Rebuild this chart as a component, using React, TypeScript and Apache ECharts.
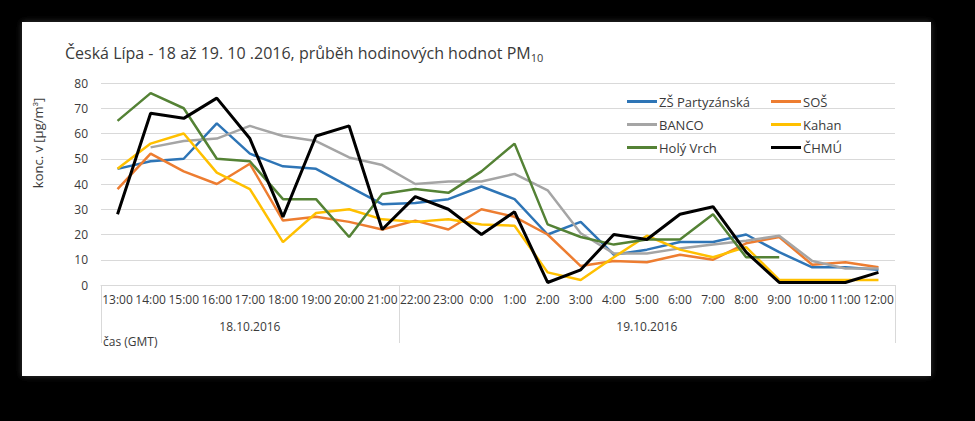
import React, { useEffect, useRef } from "react";
import * as echarts from "echarts";

const hours = ["13:00","14:00","15:00","16:00","17:00","18:00","19:00","20:00","21:00","22:00","23:00","0:00","1:00","2:00","3:00","4:00","5:00","6:00","7:00","8:00","9:00","10:00","11:00","12:00"];
const dateLabels = ["18.10.2016", "19.10.2016"];
const dateGroupSizes = [9, 15];
const yTicks = [0, 10, 20, 30, 40, 50, 60, 70, 80];

const zsPartyzanska = [46,49,50,64,52,47,46,39,32,32.5,34,39,34,20,25,12,14,17,17,20,13,7,7,6];
const sos = [38,52,45,40,48,25.5,27,25,22,25.5,22,30,27,20,7.5,9.5,9,12,10,16.5,19,8,9,7];
const banco = [null,54.5,57,58,63,59,57,50.5,47.5,40,41,41,44,37.5,20.5,12.5,12.5,14.5,16,17.5,19.5,9.5,6.5,6.5];
const kahan = [46,56,60,44.5,38,17,28.5,30,26,25,26,24,23.5,5,2,11,19.5,14,11,15,2,2,2,2];
const holyVrch = [65,76,70,50,49,34,34,19,36,38,36.5,45,56,24,19,16,18,18,28,11,11,null,null,null];
const chmu = [28,68,66,74,58,27,59,63,22,35,30,20,29,1,6,20,18,28,31,13,1,1,1,5];

const seriesNames = ["ZŠ Partyzánská","SOŠ","BANCO","Kahan","Holý Vrch","ČHMÚ"];
const seriesData = [zsPartyzanska, sos, banco, kahan, holyVrch, chmu];
const seriesColors = ["#2E75B6","#ED7D31","#A5A5A5","#FFC000","#548235","#000000"];
const seriesWidths = [2.5,2.5,2.5,2.5,2.5,3];

const FONT = "'Open Sans', sans-serif";
const TEXT = "#3a3a3a";

export default function App() {
  const ref = useRef<HTMLDivElement>(null);
  useEffect(() => {
    document.body.style.margin = "0";
    document.body.style.background = "#000";
    const chart = echarts.init(ref.current!, null, { renderer: "svg" });

    const bounds: number[] = [0];
    dateGroupSizes.forEach((s) => bounds.push(bounds[bounds.length - 1] + s));
    const centers = dateGroupSizes.map((s, i) => bounds[i] + s / 2);

    chart.setOption({
      animation: false,
      backgroundColor: "#000",
      textStyle: { fontFamily: FONT },
      graphic: [
        {
          type: "rect",
          z: -10,
          shape: { x: 22, y: 22, width: 909, height: 354 },
          style: { fill: "#fff", shadowBlur: 6, shadowColor: "rgba(80,80,80,0.7)" },
        },
        {
          type: "text",
          left: 103,
          top: 335,
          style: { text: "čas (GMT)", fill: TEXT, font: `12px ${FONT}` },
        },
        {
          type: "text",
          x: 38,
          y: 143,
          rotation: Math.PI / 2,
          style: {
            text: "konc. v [µg/m{sup|3}]",
            fill: TEXT,
            font: `13px ${FONT}`,
            align: "center",
            verticalAlign: "middle",
            rich: { sup: { fontSize: 8, verticalAlign: "top", padding: [0, 0, 6, 0], fill: TEXT } },
          },
        },
      ],
      title: {
        text: "Česká Lípa - 18 až 19. 10 .2016, průběh hodinových hodnot PM{sub|10}",
        left: 60,
        top: 38,
        textStyle: {
          fontFamily: FONT,
          fontSize: 16,
          fontWeight: "normal",
          color: TEXT,
          rich: {
            sub: { fontSize: 11, padding: [9, 0, 0, 0], color: TEXT, fontFamily: FONT },
          },
        },
      },
      legend: [
        {
          orient: "vertical",
          left: 622,
          top: 88,
          itemGap: 6,
          itemWidth: 30,
          itemHeight: 3,
          icon: "rect",
          data: [seriesNames[0], seriesNames[2], seriesNames[4]],
          textStyle: { fontSize: 13, lineHeight: 17, color: TEXT, fontFamily: FONT, padding: [0, 0, 0, -3] },
        },
        {
          orient: "vertical",
          left: 766,
          top: 88,
          itemGap: 6,
          itemWidth: 30,
          itemHeight: 3,
          icon: "rect",
          data: [seriesNames[1], seriesNames[3], seriesNames[5]],
          textStyle: { fontSize: 13, lineHeight: 17, color: TEXT, fontFamily: FONT, padding: [0, 0, 0, -3] },
        },
      ],
      grid: { left: 101, right: 80, top: 83, bottom: 136, containLabel: false },
      xAxis: [
        {
          type: "category",
          data: hours,
          boundaryGap: true,
          axisLine: { lineStyle: { color: "#d9d9d9" } },
          axisTick: { show: false },
          axisLabel: { interval: 0, color: TEXT, fontSize: 12, margin: 8, fontFamily: FONT },
        },
        {
          type: "value",
          min: 0,
          max: hours.length,
          position: "bottom",
          axisLine: { show: false },
          splitLine: { show: false },
          axisTick: { show: true, customValues: bounds, length: 58, lineStyle: { color: "#d9d9d9" } },
          axisLabel: {
            customValues: centers,
            margin: 35,
            color: TEXT,
            fontSize: 12,
            fontFamily: FONT,
            formatter: (v: number) => {
              const idx = centers.findIndex((c) => Math.abs(c - v) < 0.01);
              return idx >= 0 ? dateLabels[idx] : "";
            },
          },
        },
      ],
      yAxis: {
        type: "value",
        min: yTicks[0],
        max: yTicks[yTicks.length - 1],
        interval: 10,
        axisLine: { show: false },
        axisTick: { show: false },
        splitLine: { lineStyle: { color: "#d9d9d9" } },
        axisLabel: { color: TEXT, fontSize: 12, margin: 13, fontFamily: FONT },
      },
      series: seriesNames.map((name, i) => ({
        name,
        type: "line",
        data: seriesData[i],
        symbol: "none",
        connectNulls: false,
        lineStyle: { color: seriesColors[i], width: seriesWidths[i] },
        itemStyle: { color: seriesColors[i] },
        z: i === 5 ? 5 : 2,
      })),
    });
    return () => chart.dispose();
  }, []);
  return <div ref={ref} style={{ width: 975, height: 421 }} />;
}
